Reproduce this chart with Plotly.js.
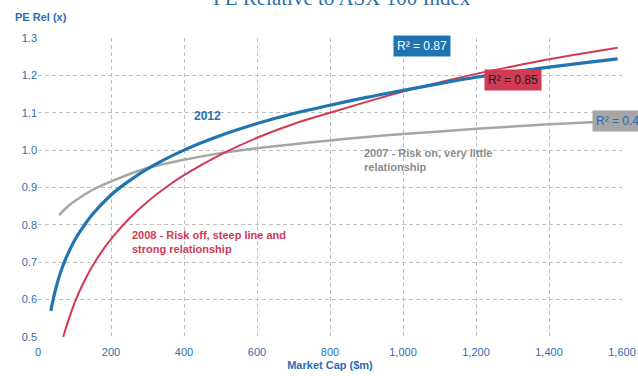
<!DOCTYPE html>
<html>
<head>
<meta charset="utf-8">
<script src="https://cdn.plot.ly/plotly-3.0.1.min.js"></script>
<style>html,body{margin:0;padding:0;background:#fff;}#chart{width:638px;height:376px;}</style>
</head>
<body>
<div id="chart"></div>
<script>
// 2012
const x2012 = [35, 50, 68, 100, 124, 150, 200, 243, 300, 400, 500, 600, 700, 800, 900, 1000, 1100, 1200, 1300, 1400, 1500, 1588];
const y2012 = [0.57, 0.634, 0.69, 0.758, 0.795, 0.829, 0.88, 0.913, 0.95, 1.0, 1.039, 1.071, 1.098, 1.12, 1.141, 1.16, 1.178, 1.195, 1.209, 1.222, 1.234, 1.244];
// 2008
const x2008 = [69, 80, 90, 101, 113, 125, 147, 175, 206, 250, 300, 350, 400, 500, 600, 700, 800, 900, 1000, 1100, 1200, 1300, 1400, 1500, 1588];
const y2008 = [0.5, 0.535, 0.564, 0.593, 0.621, 0.646, 0.686, 0.729, 0.769, 0.817, 0.862, 0.9, 0.933, 0.988, 1.033, 1.07, 1.1, 1.129, 1.157, 1.181, 1.204, 1.224, 1.243, 1.26, 1.274];
// 2007
const x2007 = [58, 80, 104, 150, 200, 293, 400, 500, 600, 700, 800, 900, 1000, 1100, 1200, 1300, 1400, 1500, 1590];
const y2007 = [0.826, 0.848, 0.866, 0.894, 0.916, 0.95, 0.974, 0.992, 1.005, 1.016, 1.026, 1.035, 1.043, 1.05, 1.057, 1.063, 1.069, 1.074, 1.078];

const xTicks = [0, 200, 400, 600, 800, 1000, 1200, 1400, 1600];
const yTicks = [0.5, 0.6, 0.7, 0.8, 0.9, 1.0, 1.1, 1.2, 1.3];

const BLUE = '#1f74b1', RED = '#d13a55', GRAY = '#a6a6a6', TXT = '#2a6fb2';
const F = 'Liberation Sans, Arial, sans-serif';

const traces = [
  {x: x2007, y: y2007, mode: 'lines', line: {color: GRAY, width: 2.5, shape: 'spline', smoothing: 1}, name: '2007'},
  {x: x2008, y: y2008, mode: 'lines', line: {color: RED, width: 2, shape: 'spline', smoothing: 1}, name: '2008'},
  {x: x2012, y: y2012, mode: 'lines', line: {color: BLUE, width: 3.2, shape: 'spline', smoothing: 1}, name: '2012'}
];

const layout = {
  width: 638, height: 376,
  margin: {l: 38, r: 16, t: 38, b: 39},
  paper_bgcolor: '#fff', plot_bgcolor: '#fff',
  showlegend: false,
  font: {family: F, size: 11, color: TXT},
  xaxis: {
    range: [0, 1600], tickvals: xTicks, tickformat: ',d',
    showgrid: true, gridcolor: '#c0c0c0', griddash: '4px,3px', gridwidth: 1,
    zeroline: false, showline: false, ticks: '', ticklabelstandoff: 7,
    tickfont: {family: F, size: 11, color: TXT},
    title: {text: '<b>Market Cap ($m)</b>', font: {family: F, size: 11, color: TXT}, standoff: 4}
  },
  yaxis: {
    range: [0.5, 1.3], tickvals: yTicks, tickformat: '.1f',
    showgrid: true, gridcolor: '#c0c0c0', griddash: '4px,3px', gridwidth: 1,
    zeroline: false, showline: false, ticks: '',
    tickfont: {family: F, size: 11, color: TXT}
  },
  annotations: [
    {xref: 'paper', yref: 'paper', x: 0.52, y: 1.135, xanchor: 'center', yanchor: 'middle',
     text: 'PE Relative to ASX 100 Index', showarrow: false,
     font: {family: 'Liberation Serif, Times New Roman, serif', size: 21, color: '#2f6fa8'}},
    {xref: 'paper', yref: 'paper', x: -0.043, y: 1.07, xanchor: 'left', yanchor: 'middle',
     text: '<b>PE Rel (x)</b>', showarrow: false, font: {family: F, size: 11, color: TXT}},
    {x: 1052, y: 1.278, text: 'R² = 0.87', showarrow: false, bgcolor: BLUE, borderpad: 3,
     font: {family: F, size: 12, color: '#ffffff'}},
    {x: 1301, y: 1.187, text: 'R² = 0.85', showarrow: false, bgcolor: RED, borderpad: 3,
     font: {family: F, size: 12, color: '#1a1a1a'}},
    {x: 1518, y: 1.078, xanchor: 'left', text: 'R² = 0.48', showarrow: false, bgcolor: GRAY, borderpad: 3,
     font: {family: F, size: 12, color: '#2a6fb2'}},
    {x: 463, y: 1.09, text: '<b>2012</b>', showarrow: false, font: {family: F, size: 12, color: BLUE}},
    {x: 888, y: 0.973, xanchor: 'left', align: 'left', text: '<b>2007 - Risk on, very little<br>relationship</b>',
     showarrow: false, font: {family: F, size: 11, color: '#8c8c8c'}},
    {x: 252, y: 0.754, xanchor: 'left', align: 'left', text: '<b>2008 - Risk off, steep line and<br>strong relationship</b>',
     showarrow: false, font: {family: F, size: 11, color: RED}}
  ]
};

Plotly.newPlot('chart', traces, layout, {displayModeBar: false, staticPlot: true});
</script>
</body>
</html>
